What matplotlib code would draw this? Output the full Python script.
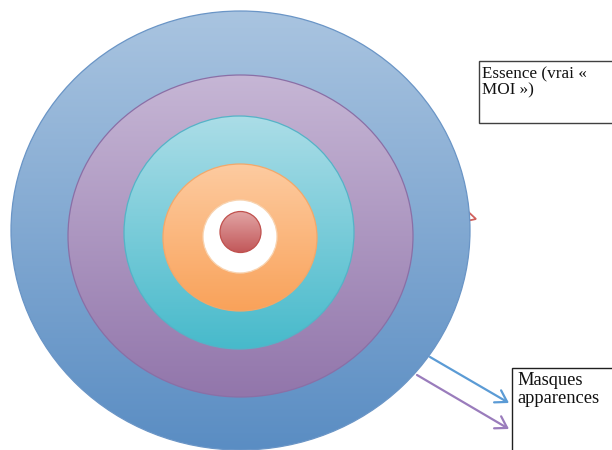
import numpy as np
import matplotlib
matplotlib.use("Agg")
import matplotlib.pyplot as plt
from matplotlib.patches import Ellipse, Rectangle, FancyArrowPatch, Polygon
from matplotlib.colors import LinearSegmentedColormap

# Rings (outer to inner): label, top colour, bottom colour, edge colour
ring_names = ["outer", "purple", "teal", "orange", "white", "core"]
ring_cx = [240.5, 240.5, 239.0, 240.0, 240.0, 240.5]
ring_cy = [230.5, 236.0, 232.5, 237.5, 236.5, 232.0]
ring_rx = [229.5, 172.5, 115.0, 77.0, 37.0, 20.5]
ring_ry = [219.5, 161.0, 116.5, 73.5, 36.5, 20.5]
ring_top = ["#a9c4e0", "#c6b6d5", "#abdde7", "#fdcba0", "#ffffff", "#e2a5a5"]
ring_bot = ["#5a8dc3", "#9276ab", "#47bacb", "#f9a25a", "#ffffff", "#c2585a"]
ring_edge = ["#6a95c6", "#8a6fa6", "#55b3c7", "#f3a86a", "#f8d3b0", "#c0504d"]

# Text box lines
essence_lines = ["Essence (vrai «", "MOI »)"]
masques_lines = ["Masques", "apparences"]

W, H = 612, 450
fig = plt.figure(figsize=(W / 100, H / 100), dpi=100)
ax = fig.add_axes([0, 0, 1, 1])
ax.set_xlim(0, W)
ax.set_ylim(H, 0)
ax.axis("off")

# Red hollow arrowhead partly hidden behind the outer disc
ax.add_patch(Polygon([(462, 206), (476, 219), (462, 222)], closed=True, facecolor="none",
                     edgecolor="#d0605c", lw=1.3, zorder=1))

for i in range(len(ring_names)):
    cx, cy, rx, ry = ring_cx[i], ring_cy[i], ring_rx[i], ring_ry[i]
    e = Ellipse((cx, cy), 2 * rx, 2 * ry, facecolor="none", edgecolor=ring_edge[i],
                lw=0.9, zorder=3 + 2 * i)
    ax.add_patch(e)
    cmap = LinearSegmentedColormap.from_list("g%d" % i, [ring_top[i], ring_bot[i]])
    grad = np.linspace(0, 1, 256).reshape(-1, 1)
    im = ax.imshow(grad, cmap=cmap, aspect="auto",
                   extent=(cx - rx, cx + rx, cy + ry, cy - ry), zorder=2 + 2 * i,
                   interpolation="bilinear")
    clip = Ellipse((cx, cy), 2 * rx, 2 * ry, transform=ax.transData, facecolor="none",
                   edgecolor="none")
    ax.add_patch(clip)
    im.set_clip_path(clip)

# Arrows towards "Masques apparences"
ax.add_patch(FancyArrowPatch((430, 357), (509, 403), arrowstyle="->,head_length=8,head_width=5",
                             color="#5b9bd5", lw=1.6, zorder=20, shrinkA=0, shrinkB=0))
ax.add_patch(FancyArrowPatch((417, 375), (509, 429), arrowstyle="->,head_length=8,head_width=5",
                             color="#9a7cbc", lw=1.6, zorder=20, shrinkA=0, shrinkB=0))

# Text boxes
ax.add_patch(Rectangle((478.5, 60.5), 150, 62.5, facecolor="white", edgecolor="#404040",
                       lw=1.0, zorder=21))
for j, (line, yb) in enumerate(zip(essence_lines, [78, 94])):
    ax.text(482, yb, line, fontsize=12.3, family="Liberation Serif", va="baseline",
            ha="left", color="#111111", zorder=22)

ax.add_patch(Rectangle((511.5, 367.5), 150, 100, facecolor="white", edgecolor="#202020",
                       lw=1.0, zorder=21))
for j, (line, yb) in enumerate(zip(masques_lines, [385, 403])):
    ax.text(517, yb, line, fontsize=13.3, family="Liberation Serif", va="baseline",
            ha="left", color="#111111", zorder=22)

fig.savefig("out.png", dpi=100)
